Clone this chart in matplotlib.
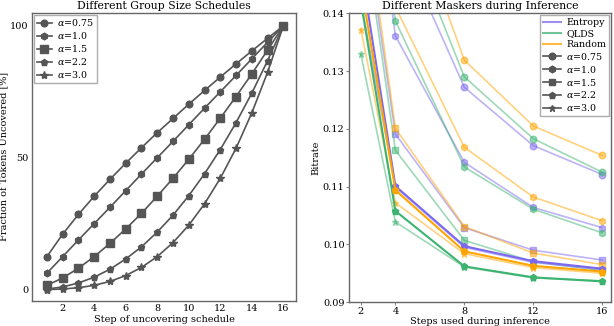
import matplotlib
matplotlib.use("Agg")
import matplotlib.pyplot as plt
from matplotlib.lines import Line2D

# ---- data ----
alphas = [0.75, 1.0, 1.5, 2.2, 3.0]
markers = ["o", "h", "s", "p", "*"]

schedule_steps = list(range(1, 17))
uncovered = {
    0.75: [12.5, 21.0, 28.5, 35.4, 41.8, 47.9, 53.8, 59.5, 64.9, 70.3, 75.5, 80.6, 85.6, 90.5, 95.3, 100],
    1.0: [6.2, 12.5, 18.8, 25.0, 31.2, 37.5, 43.8, 50.0, 56.2, 62.5, 68.8, 75.0, 81.2, 87.5, 93.8, 100],
    1.5: [1.6, 4.4, 8.1, 12.5, 17.5, 23.0, 28.9, 35.4, 42.2, 49.4, 57.0, 65.0, 73.2, 81.8, 90.8, 100],
    2.2: [0.2, 1.0, 2.5, 4.7, 7.7, 11.6, 16.2, 21.8, 28.2, 35.6, 43.9, 53.1, 63.3, 74.5, 86.8, 100],
    3.0: [0.0, 0.2, 0.7, 1.6, 3.1, 5.3, 8.4, 12.5, 17.8, 24.4, 32.5, 42.2, 53.6, 67.0, 82.4, 100],
}

inference_steps = [2, 4, 8, 12, 16]
entropy_bitrate = {
    0.75: [0.225, 0.154, 0.1272, 0.1171, 0.1121],
    1.0: [0.182, 0.1361, 0.1142, 0.1064, 0.1029],
    1.5: [0.160, 0.1191, 0.1029, 0.0990, 0.0973],
    2.2: [0.148, 0.1101, 0.0997, 0.0971, 0.0958],
    3.0: [0.142, 0.1099, 0.0995, 0.0969, 0.0956],
}
qlds_bitrate = {
    0.75: [0.235, 0.159, 0.1290, 0.1183, 0.1125],
    1.0: [0.185, 0.1387, 0.1134, 0.1061, 0.1020],
    1.5: [0.158, 0.1163, 0.1007, 0.0970, 0.0955],
    2.2: [0.142, 0.1058, 0.0962, 0.0943, 0.0936],
    3.0: [0.1329, 0.1039, 0.0961, 0.0942, 0.0937],
}
random_bitrate = {
    0.75: [0.245, 0.165, 0.1319, 0.1205, 0.1154],
    1.0: [0.188, 0.1411, 0.1168, 0.1082, 0.1041],
    1.5: [0.163, 0.1201, 0.1031, 0.0985, 0.0965],
    2.2: [0.145, 0.1094, 0.0988, 0.0963, 0.0953],
    3.0: [0.1372, 0.1072, 0.0984, 0.0960, 0.0950],
}

maskers = ["Entropy", "QLDS", "Random"]
masker_colors = ["#7B68EE", "#3CB371", "#FFA500"]
masker_data = [entropy_bitrate, qlds_bitrate, random_bitrate]
bold_alpha = 2.2

# ---- style ----
plt.rcParams["font.family"] = "DejaVu Serif"
plt.rcParams["mathtext.fontset"] = "dejavuserif"
plt.rcParams["font.size"] = 7
plt.rcParams["axes.edgecolor"] = "#666666"
plt.rcParams["axes.linewidth"] = 1.0
plt.rcParams["xtick.color"] = "#888888"
plt.rcParams["ytick.color"] = "#888888"
plt.rcParams["xtick.labelcolor"] = "black"
plt.rcParams["ytick.labelcolor"] = "black"

gray = "#555555"

fig = plt.figure(figsize=(6.14, 3.26), dpi=100)
ax1 = fig.add_axes([0.052, 0.077, 0.430, 0.884])
ax2 = fig.add_axes([0.569, 0.073, 0.426, 0.886])

# ---- left panel ----
for a, m in zip(alphas, markers):
    ms = 5.5 if m == "s" else (6 if m == "*" else 4.8)
    ax1.plot(schedule_steps, uncovered[a], marker=m, color=gray, lw=1.2,
             markersize=ms, label=r"$\alpha$=" + str(a))
ax1.set_xlim(0.05, 16.8)
ax1.set_ylim(-4.3, 105)
ax1.set_xticks([2, 4, 6, 8, 10, 12, 14, 16])
ax1.set_yticks([0, 50, 100])
ax1.tick_params(length=0, pad=2.5)
ax1.set_title("Different Group Size Schedules", fontsize=7.8, pad=3)
ax1.set_xlabel("Step of uncovering schedule", labelpad=1)
ax1.set_ylabel("Fraction of Tokens Uncovered [%]", labelpad=1)
ax1.legend(loc="upper left", fontsize=6.8, handlelength=1.6, borderpad=0.3,
           labelspacing=0.2, handletextpad=0.6, borderaxespad=0.2,
           fancybox=False, edgecolor="#999999")

# ---- right panel ----
for a, m in zip(alphas, markers):
    for data, col in zip(masker_data, masker_colors):
        if a == bold_alpha:
            ax2.plot(inference_steps, data[a], marker=m, color=col, lw=1.5,
                     markersize=4.8, zorder=3)
        else:
            ax2.plot(inference_steps, data[a], marker=m, color=col, lw=1.2,
                     markersize=4.8, alpha=0.5, zorder=2)
ax2.set_ylim(0.09, 0.14)
ax2.set_xlim(1.33, 16.5)
ax2.set_xticks(inference_steps)
ax2.set_yticks([0.09, 0.10, 0.11, 0.12, 0.13, 0.14])
ax2.tick_params(length=2, pad=1.5)
ax2.set_title("Different Maskers during Inference", fontsize=7.8, pad=3)
ax2.set_xlabel("Steps used during inference", labelpad=1)
ax2.set_ylabel("Bitrate", labelpad=2)

handles = [Line2D([], [], color=c, lw=1.5, alpha=0.75) for c in masker_colors]
labels = list(maskers)
for a, m in zip(alphas, markers):
    handles.append(Line2D([], [], color=gray, lw=1.2, marker=m, markersize=4.8))
    labels.append(r"$\alpha$=" + str(a))
ax2.legend(handles, labels, loc="upper right", fontsize=6.8, handlelength=1.9,
           borderpad=0.3, labelspacing=0.2, handletextpad=0.6, borderaxespad=0.2,
           fancybox=False, edgecolor="#999999")

fig.savefig("out.png", dpi=100)
